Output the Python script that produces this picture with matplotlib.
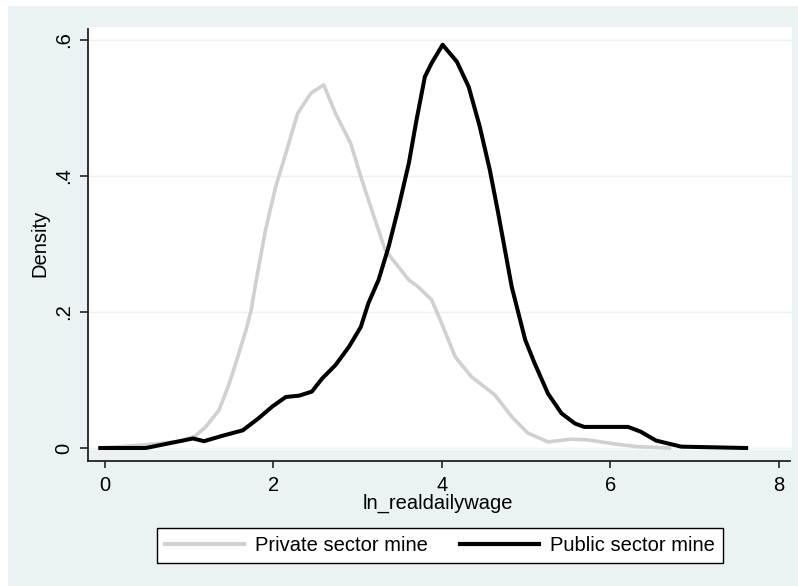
import numpy as np
import matplotlib.pyplot as plt
from matplotlib.patches import Rectangle

# -----------------------
# Data (kernel density curves)
# -----------------------
private_x = [-0.05, 0.30, 0.60, 0.90, 1.07, 1.20, 1.36, 1.48, 1.58, 1.68, 1.74, 1.80,
             1.91, 2.03, 2.15, 2.29, 2.45, 2.60, 2.74, 2.92, 3.04, 3.17, 3.33, 3.45,
             3.61, 3.72, 3.88, 4.00, 4.16, 4.35, 4.63, 4.83, 5.02, 5.26, 5.54, 5.73,
             6.05, 6.32, 6.70]
private_y = [0.000, 0.003, 0.006, 0.010, 0.017, 0.031, 0.056, 0.095, 0.134, 0.174, 0.203, 0.247,
             0.321, 0.384, 0.433, 0.492, 0.522, 0.534, 0.492, 0.448, 0.399, 0.350, 0.291, 0.272,
             0.247, 0.237, 0.218, 0.183, 0.134, 0.105, 0.078, 0.046, 0.022, 0.009, 0.013, 0.012,
             0.006, 0.002, 0.000]

public_x = [-0.05, 0.49, 0.89, 1.05, 1.18, 1.40, 1.64, 1.83, 1.99, 2.15, 2.31, 2.46,
            2.58, 2.74, 2.90, 3.04, 3.13, 3.25, 3.37, 3.49, 3.61, 3.70, 3.80, 3.88,
            4.01, 4.18, 4.32, 4.45, 4.57, 4.67, 4.75, 4.83, 4.91, 4.99, 5.10, 5.26,
            5.42, 5.58, 5.69, 6.21, 6.36, 6.54, 6.84, 7.61]
public_y = [0.000, 0.000, 0.010, 0.014, 0.010, 0.018, 0.026, 0.044, 0.061, 0.075, 0.077, 0.083,
            0.102, 0.122, 0.149, 0.178, 0.213, 0.247, 0.296, 0.355, 0.419, 0.482, 0.546, 0.566,
            0.593, 0.568, 0.531, 0.473, 0.409, 0.345, 0.291, 0.237, 0.198, 0.159, 0.125, 0.080,
            0.051, 0.036, 0.031, 0.031, 0.024, 0.011, 0.002, 0.000]

x_ticks = [0, 2, 4, 6, 8]
y_ticks = [0, 0.2, 0.4, 0.6]
y_tick_labels = ["0", ".2", ".4", ".6"]

labels = ["Private sector mine", "Public sector mine"]

# -----------------------
# Style
# -----------------------
BG = "#eaf2f3"      # stata ltbluishgray
GRAY_LINE = "#d0d0d0"
plt.rcParams['font.family'] = ['Liberation Sans', 'DejaVu Sans']
FS = 14.5

W, H = 798, 586
fig = plt.figure(figsize=(W / 100, H / 100), dpi=100)
fig.patch.set_facecolor("white")
fig.patches.append(Rectangle((8 / W, 0), (W - 8) / W, (H - 6) / H,
                             transform=fig.transFigure, facecolor=BG,
                             edgecolor="none", zorder=-10))

left, right, top, bottom = 88, 792, 26.7, 461
ax = fig.add_axes([left / W, 1 - bottom / H, (right - left) / W, (bottom - top) / H])
ax.set_facecolor("none")

# white plot region
ax.add_patch(Rectangle((0, (bottom - 449.5) / (bottom - top)), 1,
                       1 - (bottom - 449.5) / (bottom - top),
                       transform=ax.transAxes, facecolor="white",
                       edgecolor="none", zorder=0))

ax.plot(private_x, private_y, color=GRAY_LINE, lw=2.6, label=labels[0], zorder=3)
ax.plot(public_x, public_y, color="black", lw=2.9, label=labels[1], zorder=4)

x_scale = (779 - 104.5) / 8
ax.set_xlim((left - 104.5) / x_scale, (right - 104.5) / x_scale)
ax.set_ylim((448 - bottom) / 680, (448 - top) / 680)

ax.set_xticks(x_ticks)
ax.set_yticks(y_ticks)
ax.set_yticklabels(y_tick_labels)
ax.grid(axis="y", color=BG, lw=1.0)
ax.set_axisbelow(True)

for s in ["top", "right"]:
    ax.spines[s].set_visible(False)
for s in ["left", "bottom"]:
    ax.spines[s].set_color("#222222")
    ax.spines[s].set_linewidth(1.3)
ax.spines["left"].set_bounds((448 - bottom) / 680, (448 - 28.7) / 680)
ax.spines["bottom"].set_bounds((left - 104.5) / x_scale, (790 - 104.5) / x_scale)

ax.tick_params(axis="x", direction="out", length=5, width=1.2, color="#222222",
               labelsize=FS, pad=6)
ax.tick_params(axis="y", direction="out", length=5.8, width=1.2, color="#222222",
               labelsize=FS, pad=5, labelrotation=90)
for t in ax.get_yticklabels():
    t.set_va("center")

ax.set_xlabel("ln_realdailywage", fontsize=FS, va="center")
ax.xaxis.set_label_coords(0.497, (bottom - 503) / (bottom - top))
ax.set_ylabel("Density", fontsize=FS, va="center")
ax.yaxis.set_label_coords((40 - left) / (right - left), 0.5)

leg = fig.legend(loc="center", bbox_to_anchor=(440 / W, 1 - 545.5 / H), ncol=2,
                 fontsize=FS, frameon=True, fancybox=False, framealpha=1,
                 edgecolor="black", handlelength=3.9, handletextpad=0.55,
                 columnspacing=1.6, borderpad=0.4)
leg.get_frame().set_linewidth(1.0)
for line in leg.get_lines():
    line.set_linewidth(3.0)

fig.savefig("out.png", dpi=100)
